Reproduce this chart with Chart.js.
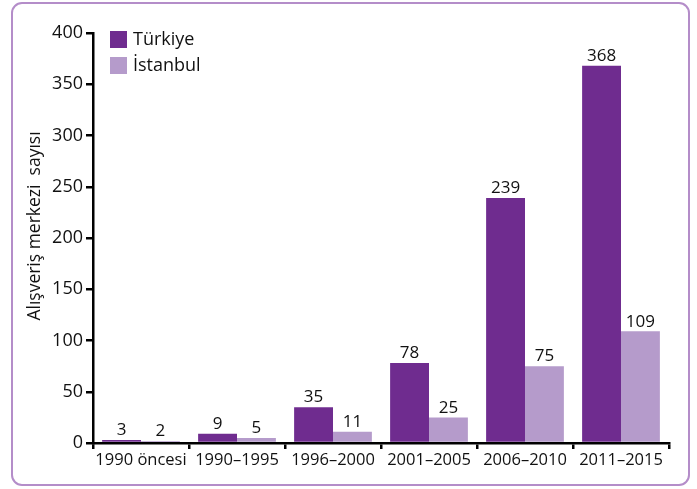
<!DOCTYPE html>
<html>
<head>
<meta charset="utf-8">
<script src="https://cdn.jsdelivr.net/npm/chart.js@4"></script>
<style>
  html, body { margin: 0; padding: 0; background: #fff; }
  #wrap { width: 697px; height: 489px; position: relative; }
</style>
</head>
<body>
<div id="wrap"><canvas id="chart" width="697" height="489"></canvas></div>
<script>
const periods = ['1990 öncesi', '1990–1995', '1996–2000', '2001–2005', '2006–2010', '2011–2015'];
const turkiye = [3, 9, 35, 78, 239, 368];
const istanbul = [2, 5, 11, 25, 75, 109];
const seriesNames = ['Türkiye', 'İstanbul'];
const yTitle = 'Alışveriş merkezi  sayısı';

const fontFamily = '"Open Sans", "Noto Sans", sans-serif';

// rounded frame around the whole figure
const framePlugin = {
    id: 'frame',
    beforeDraw: function(chart) {
        const ctx = chart.ctx;
        ctx.save();
        ctx.strokeStyle = '#b48dc9';
        ctx.lineWidth = 2;
        ctx.beginPath();
        ctx.roundRect(12, 3, 677, 482, 10);
        ctx.stroke();
        ctx.restore();
    }
};

// values above bars, legend inside the plot, y title
const labelsPlugin = {
    id: 'barLabels',
    afterDatasetsDraw: function(chart) {
        const ctx = chart.ctx;
        ctx.save();
        ctx.font = '17px ' + fontFamily;
        ctx.fillStyle = '#111';
        ctx.textAlign = 'center';
        ctx.textBaseline = 'bottom';
        chart.data.datasets.forEach(function(ds, i) {
            const meta = chart.getDatasetMeta(i);
            meta.data.forEach(function(bar, j) {
                ctx.fillText(ds.data[j], bar.x, bar.y - 1);
            });
        });

        // legend
        ctx.textAlign = 'left';
        ctx.textBaseline = 'middle';
        ctx.font = '18px ' + fontFamily;
        chart.data.datasets.forEach(function(ds, i) {
            const y = 31 + i * 26;
            ctx.fillStyle = ds.backgroundColor;
            ctx.fillRect(110, y, 17, 17);
            ctx.fillStyle = '#111';
            ctx.fillText(ds.label, 133, y + 9);
        });

        // y axis title
        ctx.translate(35, 226);
        ctx.rotate(-Math.PI / 2);
        ctx.textAlign = 'center';
        ctx.font = '17.5px ' + fontFamily;
        ctx.fillText(yTitle, 0, 0);
        ctx.restore();
    }
};

new Chart(document.getElementById('chart'), {
    type: 'bar',
    data: {
        labels: periods,
        datasets: [
            { label: seriesNames[0], data: turkiye, backgroundColor: '#6f2c8f' },
            { label: seriesNames[1], data: istanbul, backgroundColor: '#b59bcb' }
        ]
    },
    options: {
        responsive: false,
        animation: false,
        layout: { padding: { top: 33, right: 28, left: 0, bottom: 0 } },
        datasets: { bar: { categoryPercentage: 0.81, barPercentage: 1.0 } },
        plugins: {
            legend: { display: false },
            tooltip: { enabled: false }
        },
        scales: {
            x: {
                grid: {
                    display: true,
                    drawOnChartArea: false,
                    offset: true,
                    color: '#000',
                    lineWidth: 2.5,
                    tickLength: 6
                },
                border: { display: true, color: '#000', width: 2.5 },
                ticks: {
                    color: '#111',
                    font: { family: fontFamily, size: 16.5 },
                    padding: 1,
                    maxRotation: 0,
                    autoSkip: false
                },
                afterFit: function(axis) { axis.height = 46; }
            },
            y: {
                min: 0,
                max: 400,
                grid: {
                    display: true,
                    drawOnChartArea: false,
                    color: '#000',
                    lineWidth: 2.5,
                    tickLength: 7
                },
                border: { display: true, color: '#000', width: 2.5 },
                ticks: {
                    stepSize: 50,
                    color: '#111',
                    font: { family: fontFamily, size: 18 },
                    padding: 3
                },
                afterFit: function(axis) { axis.width = 93; }
            }
        }
    },
    plugins: [framePlugin, labelsPlugin]
});
</script>
</body>
</html>
